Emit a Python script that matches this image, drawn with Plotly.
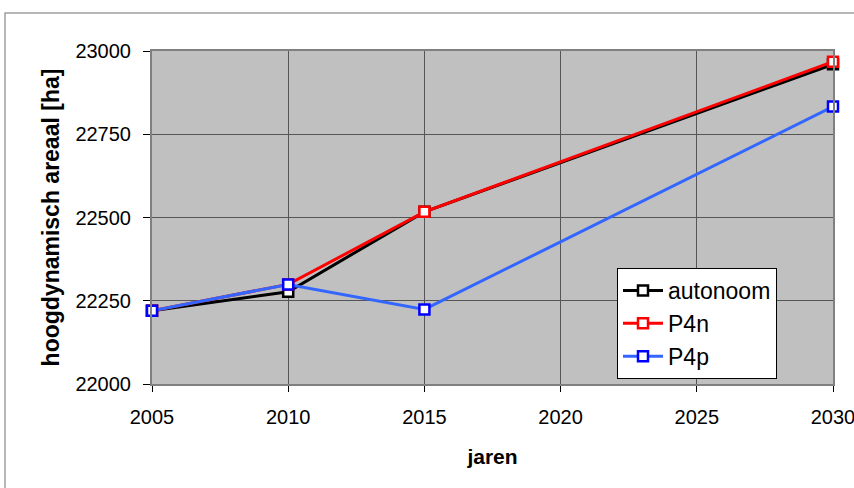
import plotly.graph_objects as go

jaren = [2005, 2010, 2015, 2030]
autonoom = [22220, 22277, 22517, 22960]
p4n = [22220, 22299, 22517, 22968]
p4p = [22220, 22299, 22224, 22833]

x_ticks = [2005, 2010, 2015, 2020, 2025, 2030]
y_ticks = [22000, 22250, 22500, 22750, 23000]

FONT = "Liberation Sans, Arial, sans-serif"

fig = go.Figure()
series = [
    ("autonoom", autonoom, "#000000", "#000000"),
    ("P4n", p4n, "#FF0000", "#FF0000"),
    ("P4p", p4p, "#3366FF", "#0000FF"),
]
for name, vals, lc, mc in series:
    fig.add_trace(go.Scatter(
        x=jaren, y=vals, name=name, mode="lines+markers",
        line=dict(color=lc, width=3),
        marker=dict(symbol="square", size=10, color="white",
                    line=dict(color=mc, width=2.5)),
        cliponaxis=False,
    ))

L, R, T, B = 152, 21, 51, 104
W, H = 854, 488
pw = W - L - R
ph = H - T - B

fig.update_layout(
    width=W, height=H,
    autosize=False,
    margin=dict(l=L, r=R, t=T, b=B, pad=0, autoexpand=False),
    paper_bgcolor="white",
    plot_bgcolor="#C0C0C0",
    font=dict(family=FONT, color="black", size=20),
    showlegend=True,
    legend=dict(
        x=(617 - L) / pw, y=(H - B - 268) / ph,
        xanchor="left", yanchor="top",
        bgcolor="white", bordercolor="black", borderwidth=1,
        font=dict(family=FONT, size=23, color="black"),
        tracegroupgap=0, itemwidth=40,
        entrywidth=180, entrywidthmode="pixels",
    ),
    xaxis=dict(
        range=[2005, 2030], tickvals=x_ticks,
        ticktext=[str(v) for v in x_ticks],
        ticklabeloverflow="allow", automargin=False,
        showgrid=True, gridcolor="#555555", gridwidth=1,
        showline=True, linecolor="#808080", linewidth=2, mirror=True,
        ticks="outside", ticklen=6, tickcolor="black",
        ticklabelstandoff=8,
        tickfont=dict(family=FONT, size=20),
        title=dict(text="<b>jaren</b>", font=dict(family=FONT, size=21), standoff=22),
        zeroline=False,
    ),
    yaxis=dict(
        range=[22000, 23000], tickvals=y_ticks,
        ticktext=[str(v) for v in y_ticks],
        automargin=False,
        showgrid=True, gridcolor="#555555", gridwidth=1,
        showline=True, linecolor="#808080", linewidth=2, mirror=True,
        ticks="outside", ticklen=7, tickcolor="black",
        ticklabelstandoff=8,
        tickfont=dict(family=FONT, size=20),
        title=dict(text="<b>hoogdynamisch areaal [ha]</b>", font=dict(family=FONT, size=23), standoff=9),
        zeroline=False,
    ),
    shapes=[dict(
        type="rect", xref="paper", yref="paper",
        x0=(5 - L) / pw, x1=1.3, y0=-0.5, y1=(H - B - 13) / ph,
        line=dict(color="#A0A0A0", width=1.5), fillcolor="rgba(0,0,0,0)",
        layer="below",
    )],
)

fig.write_html("out.html", config={"displayModeBar": False},
               post_script="document.body.style.margin='0';")
